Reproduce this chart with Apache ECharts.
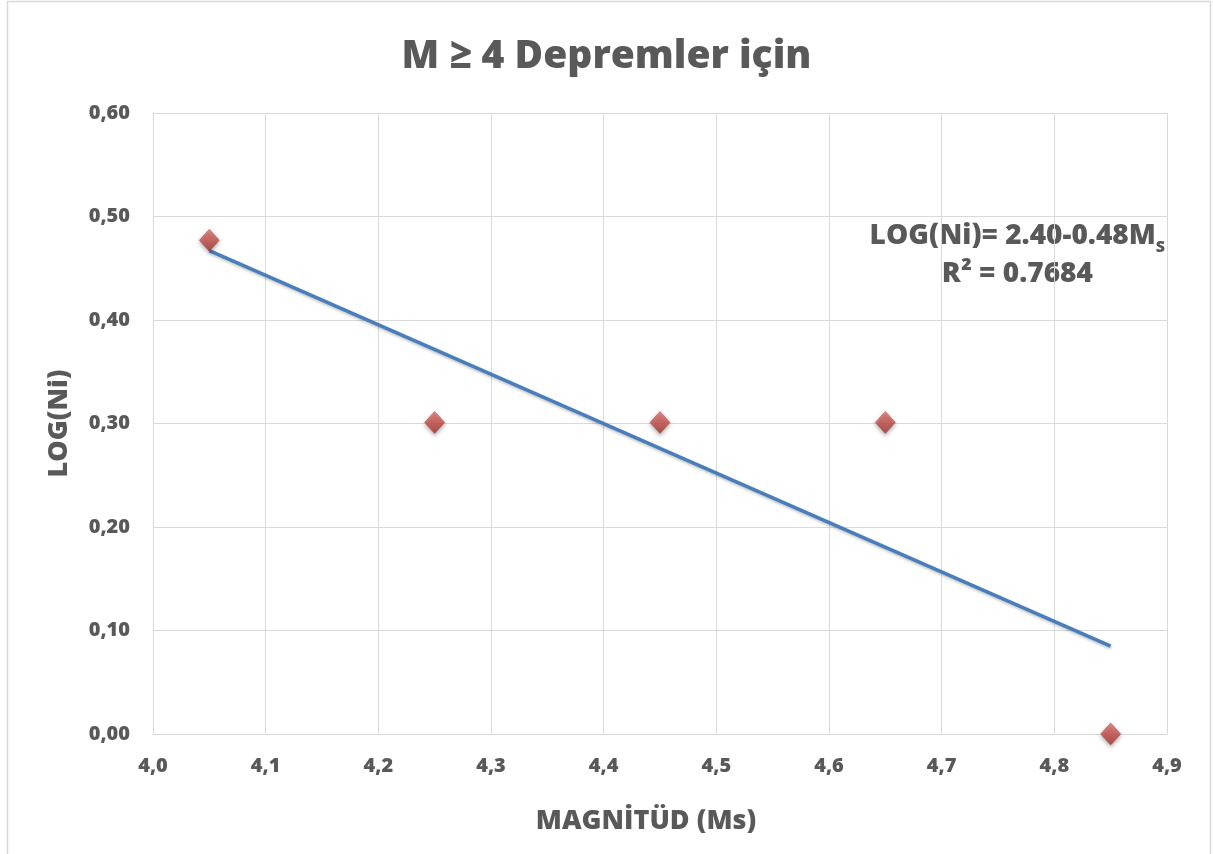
<!DOCTYPE html>
<html>
<head>
<meta charset="utf-8">
<script src="https://cdn.jsdelivr.net/npm/echarts@6/dist/echarts.min.js"></script>
<style>
  html, body { margin: 0; padding: 0; background: #ffffff; }
  #chart { width: 1213px; height: 854px; }
</style>
</head>
<body>
<div id="chart"></div>
<script>
// Magnitude classes (Ms) and log of event counts
const magnitudes = [4.05, 4.25, 4.45, 4.65, 4.85];
const logCounts = [0.477, 0.301, 0.301, 0.301, 0.0];

// Linear trend line end points: LOG(Ni) = 2.40 - 0.48 Ms
const trendX = [4.05, 4.85];
const trendY = [0.467, 0.085];

const yTicks = ['0,00', '0,10', '0,20', '0,30', '0,40', '0,50', '0,60'];
const xTicks = ['4,0', '4,1', '4,2', '4,3', '4,4', '4,5', '4,6', '4,7', '4,8', '4,9'];

const textColor = '#595959';
const gridColor = '#d9d9d9';
const fontFamily = '"Open Sans", "DejaVu Sans", sans-serif';
const heavy = 800;

const chart = echarts.init(document.getElementById('chart'), null, { renderer: 'canvas' });

const option = {
  backgroundColor: '#ffffff',
  animation: false,
  title: {
    text: 'M ≥ 4 Depremler için',
    left: 'center',
    top: 32,
    textStyle: { color: textColor, fontFamily, fontWeight: heavy, fontSize: 39 }
  },
  grid: { left: 153, right: 46, top: 113, bottom: 120 },
  xAxis: {
    type: 'value',
    min: 4.0,
    max: 4.9,
    interval: 0.1,
    name: 'MAGNİTÜD (Ms)',
    nameLocation: 'middle',
    nameGap: 74,
    nameTextStyle: { color: textColor, fontFamily, fontWeight: heavy, fontSize: 27, padding: [0, 28, 0, 0] },
    axisLine: { show: true, lineStyle: { color: gridColor, width: 1 } },
    axisTick: { show: false },
    splitLine: { show: true, lineStyle: { color: gridColor, width: 1 } },
    axisLabel: {
      color: textColor, fontFamily, fontWeight: heavy, fontSize: 20, margin: 22,
      formatter: (v) => xTicks[Math.round((v - 4.0) * 10)]
    }
  },
  yAxis: {
    type: 'value',
    min: 0,
    max: 0.6,
    interval: 0.1,
    name: 'LOG(Ni)',
    nameLocation: 'middle',
    nameRotate: 90,
    nameGap: 80,
    nameTextStyle: { color: textColor, fontFamily, fontWeight: heavy, fontSize: 27 },
    axisLine: { show: true, lineStyle: { color: gridColor, width: 1 } },
    axisTick: { show: false },
    splitLine: { show: true, lineStyle: { color: gridColor, width: 1 } },
    axisLabel: {
      color: textColor, fontFamily, fontWeight: heavy, fontSize: 20, margin: 23,
      formatter: (v) => yTicks[Math.round(v * 10)]
    }
  },
  series: [
    {
      name: 'Trend',
      type: 'line',
      data: trendX.map((x, i) => [x, trendY[i]]),
      symbol: 'none',
      z: 2,
      lineStyle: {
        color: '#4a7ebb', width: 3.5,
        shadowColor: 'rgba(0,0,0,0.25)', shadowBlur: 3, shadowOffsetY: 1.5
      }
    },
    {
      name: 'LOG(Ni)',
      type: 'scatter',
      data: magnitudes.map((x, i) => [x, logCounts[i]]),
      symbol: 'diamond',
      symbolSize: [20, 22],
      z: 3,
      itemStyle: {
        color: {
          type: 'linear', x: 0, y: 0, x2: 0, y2: 1,
          colorStops: [
            { offset: 0, color: '#e0706c' },
            { offset: 0.5, color: '#c9504c' },
            { offset: 1, color: '#9c3532' }
          ]
        },
        borderColor: '#a8403d',
        borderWidth: 0.6,
        shadowColor: 'rgba(0,0,0,0.4)', shadowBlur: 4, shadowOffsetY: 2
      }
    }
  ],
  graphic: [
    {
      type: 'rect',
      shape: { x: 7.5, y: 1.5, width: 1203, height: 900 },
      style: { fill: 'none', stroke: '#d9d9d9', lineWidth: 1.5 },
      silent: true
    },
    {
      type: 'text',
      right: 48,
      top: 222,
      style: {
        text: '{a|LOG(Ni)= 2.40-0.48M}{s|S}\n{a|R² = 0.7684}',
        align: 'center',
        rich: {
          a: { fontFamily, fontWeight: heavy, fontSize: 28, fill: textColor, color: textColor, lineHeight: 38, align: 'center' },
          s: { fontFamily, fontWeight: heavy, fontSize: 16, fill: textColor, color: textColor, lineHeight: 38, verticalAlign: 'bottom', padding: [16, 0, 0, 0] }
        }
      }
    }
  ]
};

chart.setOption(option);
</script>
</body>
</html>
